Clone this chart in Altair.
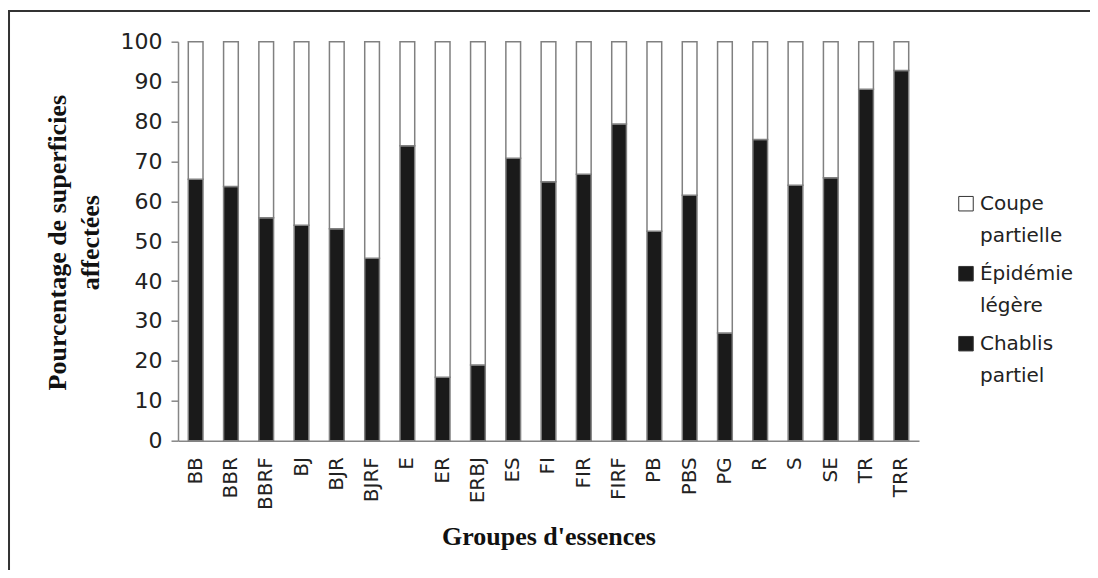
import altair as alt
import pandas as pd

groups = ["BB", "BBR", "BBRF", "BJ", "BJR", "BJRF", "E", "ER", "ERBJ", "ES", "FI",
          "FIR", "FIRF", "PB", "PBS", "PG", "R", "S", "SE", "TR", "TRR"]
# black part (Épidémie légère / Chablis partiel share the same black fill)
epidemie = [65.5, 63.7, 55.9, 54.0, 53.1, 45.7, 73.9, 15.9, 19.0, 70.8, 64.9,
            66.8, 79.4, 52.5, 61.5, 27.0, 75.5, 64.0, 65.9, 88.1, 92.8]
chablis = [0] * 21
coupe = [round(100 - a - b, 1) for a, b in zip(epidemie, chablis)]

series_names = ["Coupe partielle", "Épidémie légère", "Chablis partiel"]
series_labels = ["Coupe|partielle", "Épidémie|légère", "Chablis|partiel"]
series_colors = ["#ffffff", "#1a1a1a", "#1a1a1a"]
y_ticks = [0, 10, 20, 30, 40, 50, 60, 70, 80, 90, 100]

rows = []
for i, g in enumerate(groups):
    for name, vals, order in [("Chablis partiel", chablis, 0),
                              ("Épidémie légère", epidemie, 1),
                              ("Coupe partielle", coupe, 2)]:
        if vals[i] > 0:
            rows.append({"groupe": g, "serie": name, "valeur": vals[i], "ordre": order})
df = pd.DataFrame(rows)

W, H = 741, 399

one = pd.DataFrame({"a": [0]})
frame_left = alt.Chart(one).mark_rule(stroke="#333333", strokeWidth=2).encode(
    x=alt.value(-169), y=alt.value(-30.7), y2=alt.value(H + 300),
)
frame_top = alt.Chart(one).mark_rule(stroke="#333333", strokeWidth=2).encode(
    x=alt.value(-170), x2=alt.value(W + 400), y=alt.value(-30.7),
)

label_map = "{" + ",".join(f"'{n}': '{l}'" for n, l in zip(series_names, series_labels)) + "}"

bars = alt.Chart(df).mark_bar(stroke="#808080", strokeWidth=1.5).encode(
    x=alt.X("groupe:N", sort=groups,
            scale=alt.Scale(paddingInner=0.583, paddingOuter=0.2915),
            axis=alt.Axis(title="Groupes d'essences", labelAngle=270, ticks=False,
                          labelPadding=16, labelFont="DejaVu Sans", labelFontSize=20,
                          labelColor="#222222", domainColor="#868686", domainWidth=1.5,
                          titleFont="Liberation Serif", titleFontWeight="bold",
                          titleFontSize=26, titleColor="#111111",
                          titleX=W / 2, titleY=96, titleAlign="center",
                          titleBaseline="middle")),
    y=alt.Y("valeur:Q", stack="zero",
            scale=alt.Scale(domain=[0, 100], nice=False),
            axis=alt.Axis(title=["Pourcentage de superficies", "affectées"],
                          values=y_ticks, grid=False, tickSize=7, tickColor="#868686",
                          tickWidth=1.5, labelPadding=9, labelFont="DejaVu Sans",
                          labelFontSize=22, labelColor="#222222",
                          domainColor="#868686", domainWidth=1.5,
                          titleFont="Liberation Serif", titleFontWeight="bold",
                          titleFontSize=26, titleColor="#111111", titleLineHeight=34,
                          titleAngle=270, titleX=-121, titleY=H / 2 + 1,
                          titleAlign="center", titleBaseline="middle")),
    color=alt.Color("serie:N",
                    scale=alt.Scale(domain=series_names, range=series_colors),
                    legend=alt.Legend(title=None, orient="none", legendX=778, legendY=152,
                                      symbolType="square", symbolSize=210,
                                      symbolStrokeColor="#333333", symbolStrokeWidth=1,
                                      labelFont="DejaVu Sans", labelFontSize=20,
                                      labelOffset=4,
                                      labelColor="#222222", rowPadding=18,
                                      labelExpr=f"split({label_map}[datum.label], '|')")),
    order=alt.Order("ordre:Q", sort="ascending"),
)

chart = alt.layer(frame_left, frame_top, bars).properties(
    width=W, height=H,
    autosize=alt.AutoSizeParams(type="none"),
    padding={"left": 170, "top": 33.7, "right": 171, "bottom": 129},
).configure(
    background="white",
    style={"guide-label": {"lineHeight": 32}},
).configure_view(stroke=None)

chart.save("out.html", embed_options={"renderer": "svg", "actions": False})
